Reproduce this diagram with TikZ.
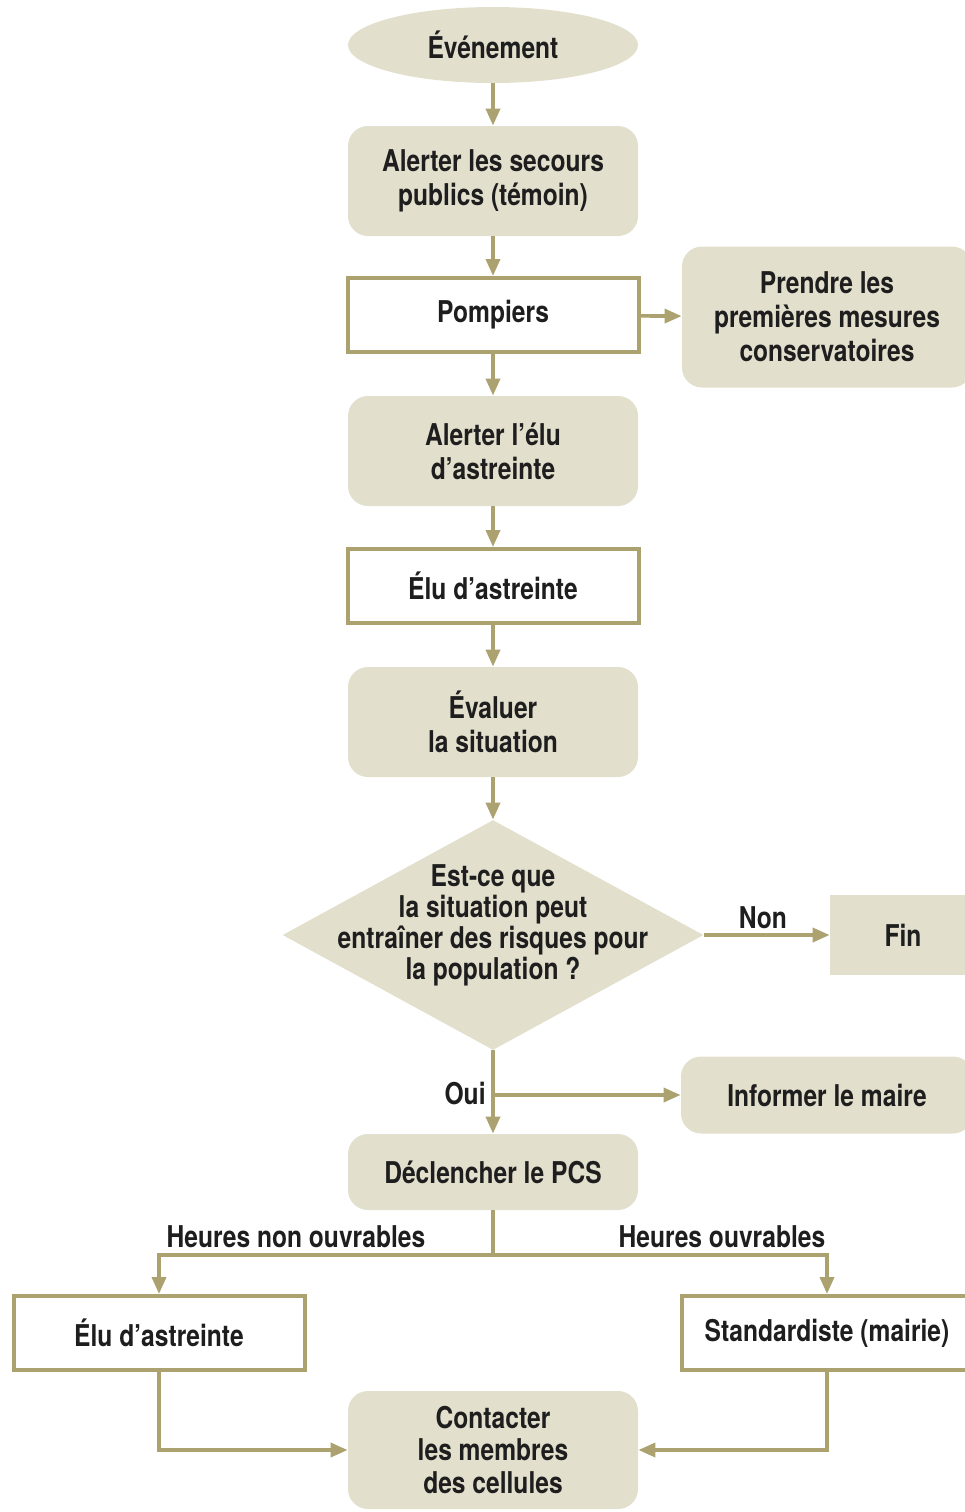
\documentclass[tikz,border=0pt]{standalone}
\usepackage{fontspec}
\setmainfont{TeX Gyre Heros}[FakeStretch=0.82]
\usepackage{tikz}
\definecolor{cc}{RGB}{227, 223, 205}
\definecolor{ol}{RGB}{171, 162, 111}
\definecolor{tx}{RGB}{30, 30, 30}
\usetikzlibrary{positioning}
\usetikzlibrary{shapes.geometric}
\usetikzlibrary{arrows.meta}

\begin{document}
\begin{tikzpicture}[every node/.style={font=\fontsize{15}{17}\selectfont\bfseries, text=tx, align=center, inner sep=0pt},
  soft/.style={rectangle, rounded corners=10pt, fill=cc, minimum width=145pt, minimum height=55pt},
  plain/.style={rectangle, fill=white, draw=ol, line width=2pt, minimum width=145.5pt, minimum height=37pt},
  arr/.style={line width=1.8pt, color=ol, -{Triangle[length=8.5pt, width=7pt]}},
  lin/.style={line width=1.8pt, color=ol}]
\clip (0pt, 0pt) rectangle (482.5pt, -756pt);
\node (1) [ellipse, fill=cc, minimum width=145pt, minimum height=38pt] at (246.5pt, -22.5pt) {Événement};
\node (2) [soft] at (246.5pt, -90.5pt) {Alerter les secours\\publics (témoin)};
\node (3) [plain] at (246.5pt, -157.5pt) {Pompiers};
\node (4) [soft, minimum height=70.5pt] at (413.5pt, -158.5pt) {Prendre les\\premières mesures\\conservatoires};
\node (5) [soft] at (246.5pt, -225.5pt) {Alerter l’élu\\d’astreinte};
\node (6) [plain] at (246.5pt, -293pt) {Élu d’astreinte};
\node (7) [soft] at (246.5pt, -361pt) {Évaluer\\la situation};
\node (8) [diamond, fill=cc, minimum width=210.5pt, minimum height=115pt] at (246.5pt, -467.5pt) {};
\node (8t) [font=\fontsize{15}{15.5}\selectfont\bfseries] at (246.5pt, -462.5pt) {Est-ce que\\la situation peut\\entraîner des risques pour\\la population ?};
\node (9) [rectangle, fill=cc, minimum width=73pt, minimum height=40pt] at (451.5pt, -467.5pt) {Fin};
\node (10) at (381.5pt, -459pt) {Non};
\node (11) [soft, minimum width=146pt, minimum height=38.5pt] at (413.5pt, -547.5pt) {Informer le maire};
\node (12) [soft, minimum height=38pt] at (246.5pt, -586pt) {Déclencher le PCS};
\node (13) [plain] at (79.5pt, -666.5pt) {Élu d’astreinte};
\node (14) [plain] at (413.5pt, -666.5pt) {Standardiste (mairie)};
\node (15) [soft, minimum height=59pt, font=\fontsize{15}{16.3}\selectfont\bfseries] at (246.5pt, -725pt) {Contacter\\les membres\\des cellules};
\node (16) [anchor=east] at (243pt, -546.5pt) {Oui};
\node (17) at (148pt, -618.5pt) {Heures non ouvrables};
\node (18) at (361pt, -618.5pt) {Heures ouvrables};
\coordinate (s) at (246.5pt, -627.5pt);
\draw [arr] (1) to (2);
\draw [arr] (2) to (3);
\draw [arr] (3) to (4);
\draw [arr] (3) to (5);
\draw [arr] (5) to (6);
\draw [arr] (6) to (7);
\draw [arr] (7) to (8);
\draw [arr] (8) to (9);
\draw [arr] (8) to (12);
\draw [arr] (8.south |- 11.west) to (11.west);
\draw [lin] (12) to (s);
\draw [arr] (s) -| (13);
\draw [arr] (s) -| (14);
\draw [arr] (13) |- (15);
\draw [arr] (14) |- (15);
\end{tikzpicture}
\end{document}
